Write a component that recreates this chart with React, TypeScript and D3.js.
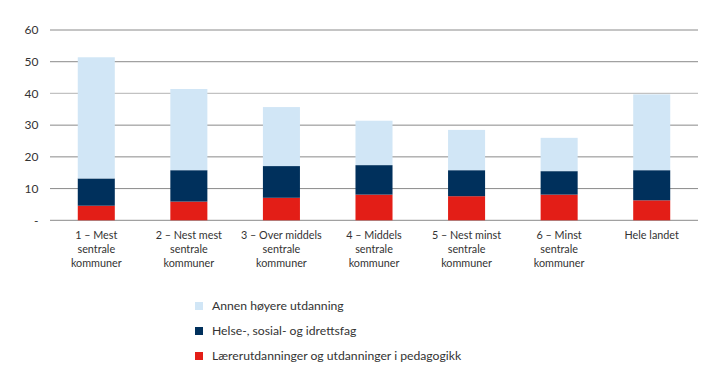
import React from "react";
import * as d3 from "d3";

const categories = [
  ["1 – Mest", "sentrale", "kommuner"],
  ["2 – Nest mest", "sentrale", "kommuner"],
  ["3 – Over middels", "sentrale", "kommuner"],
  ["4 – Middels", "sentrale", "kommuner"],
  ["5 – Nest minst", "sentrale", "kommuner"],
  ["6 – Minst", "sentrale", "kommuner"],
  ["Hele landet"],
];
const laerer = [4.6, 5.9, 7.1, 8.1, 7.6, 8.1, 6.3];
const helse = [8.6, 9.9, 10.0, 9.3, 8.2, 7.4, 9.5];
const annen = [38.2, 25.6, 18.6, 14.0, 12.7, 10.5, 23.9];
const seriesNames = [
  "Annen høyere utdanning",
  "Helse-, sosial- og idrettsfag",
  "Lærerutdanninger og utdanninger i pedagogikk",
];
const yTicks = [0, 10, 20, 30, 40, 50, 60];

const colors = { laerer: "#e31e17", helse: "#00305c", annen: "#d1e6f6" };

export default function App() {
  const W = 719, H = 383;
  const x0 = 50, x1 = 698, yTop = 30, yBot = 220.3;
  const x = d3.scaleBand<number>().domain(d3.range(categories.length)).range([x0, x1]).paddingInner(0.6).paddingOuter(0.3);
  const y = d3.scaleLinear().domain([0, 60]).range([yBot, yTop]);
  const keys = ["laerer", "helse", "annen"] as const;
  const rows = categories.map((_, i) => ({ laerer: laerer[i], helse: helse[i], annen: annen[i] }));
  const stack = d3.stack<any>().keys(keys as any)(rows);
  const font = "Lato, 'Open Sans', sans-serif";
  const legendColors = [colors.annen, colors.helse, colors.laerer];
  return (
    <svg width={W} height={H} style={{ position: "absolute", left: 0, top: 0, background: "#fff" }} fontFamily={font}>
      {yTicks.map((t) => (
        <g key={t}>
          <line x1={x0} x2={x1} y1={y(t)} y2={y(t)} stroke={t === 40 ? "#c2c2c2" : "#8a8a8a"} strokeWidth={t === 40 ? 1.3 : 1} />
          <text x={38.5} y={y(t)} dy="0.35em" textAnchor="end" fontSize={12} fill="#333">{t === 0 ? "-" : t}</text>
        </g>
      ))}
      {stack.map((s) => (
        <g key={s.key}>
          {s.map((d, i) => (
            <rect key={i} x={x(i)} width={x.bandwidth()} y={y(d[1])} height={y(d[0]) - y(d[1])} fill={(colors as any)[s.key]} />
          ))}
        </g>
      ))}
      {categories.map((lines, i) => (
        <text key={i} textAnchor="middle" fontSize={10.8} fill="#333">
          {lines.map((l, j) => (
            <tspan key={j} x={(x(i) as number) + x.bandwidth() / 2} y={238.5 + j * 14}>{l}</tspan>
          ))}
        </text>
      ))}
      {seriesNames.map((n, i) => (
        <g key={n}>
          <rect x={195} y={302 + i * 25} width={8} height={8} fill={legendColors[i]} />
          <text x={212} y={306 + i * 25} dy="0.35em" fontSize={12.2} fill="#333">{n}</text>
        </g>
      ))}
    </svg>
  );
}
